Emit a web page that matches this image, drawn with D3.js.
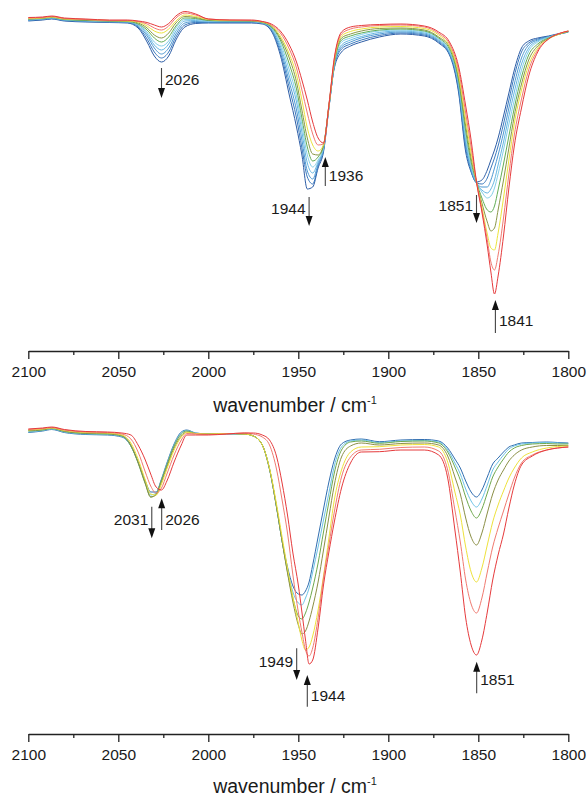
<!DOCTYPE html>
<html><head><meta charset="utf-8">
<script src="https://cdn.jsdelivr.net/npm/d3@7"></script>
<style>
body{margin:0;background:#fff}
svg{display:block}
text{font-family:"Liberation Sans",Arial,Helvetica,sans-serif;fill:#1a1a1a}
</style>
</head><body>
<svg id="chart" width="588" height="797"></svg>
<script>
// ---------- DATA ----------
// Upper panel: wavenumbers (cm-1) and 10 spectra (signal, a.u., increasing downward)
const topWavenumbers = [2100,2092,2087,2080,2068,2055,2045,2039,2034,2030,2026,2022,2018,2013,2007,2000,1988,1976,1970,1965,1960,1955,1951,1948,1945,1942,1939,1936,1933,1930,1926,1921,1915,1905,1893,1880,1872,1866,1861,1857,1854,1851,1848,1845,1843,1841,1839,1836,1833,1830,1826,1822,1817,1811,1805,1800];
const topS0 = [21,20,19,21,22,22.5,23, 28,42,56,62,56,40,27,23.5,23,23, 23, 24,31,55,95,127,155,189,187,168,152,108,68,52,46,42, 37,34,36,43, 55,92,152,172,182,180,170,160,150,138,116,93,70,48,41,38,36,33.5,31.5];
const topS1 = [20.5,19.5,18.5,20.5,21.5,22,22.5, 27,39,52,58,52,37,25,22.5,22.5,22.5, 22.5, 23.5,30,52,88,118,148,177,184,166,150,108,67,49,44,40, 35.5,33,35,42, 54,89,148,171,183,184,178,168,158,146,124,100,76,52,43,39,36.5,34,32];
const topS2 = [20,19,18.5,20,21,22,22, 26,36,48,54,48,34,23,21.5,22,22, 22, 23,29,49,82,110,140,171,179,164,149,107,66,47,42,38, 34,32,34,41, 53,86,144,170,183,187,187,180,168,155,133,108,84,58,45,40,37,34,32];
const topS3 = [20,19,18,20,21,21.5,22, 25,34,45,50,44,31,21,20.5,21.5,21.5, 21.5, 23,28,46,76,102,132,163,173,162,148,107,65,45,40,36.5, 32.5,31,33,40, 52,84,140,168,183,190,193,189,180,165,142,116,92,64,48,41,37,34,32];
const topS4 = [19.5,18.5,17.5,19.5,20.5,21.5,21.5, 24.5,32,42,46,41,28,19.5,19.5,21,21, 21.5, 22.5,27.5,43,70,96,125,155,167,160,147,107,64,42,38,34.5, 31,30,32,39, 51,82,136,166,182,192,198,196,188,174,150,124,100,70,51,42,37.5,34,31.5];
const topS5 = [19,18.5,17.5,19.5,20.5,21,21.5, 24,30,38,42,37,26,18,18.5,20.5,21, 21, 22.5,27,40,64,89,118,147,161,157,146,106,63,40,36,33, 30,29,31,38, 49,80,131,162,182,198,210,212,206,190,164,136,108,77,55,44,38,34,31.5];
const topS6 = [19,18,17,19,20,21,21, 23,28,35,38,33,23,16.5,17.5,20,20.5, 21, 22,26,38,58,82,110,138,154,155,145,106,62,38,34,31, 28.5,28,30,37, 47,77,126,158,182,203,222,231,228,210,180,148,116,84,60,46,38.5,34,31.5];
const topS7 = [18.5,18,17,19,19.5,20.5,21, 22,26,31,33,29,21,15,16.5,19.5,20.5, 20.5, 22,25.5,36,54,75,100,128,145,151,145,106,61,36,31.5,29, 27,26.5,28.5,35, 46,74,120,153,182,207,234,248,250,233,198,160,124,90,65,48,39,34,31];
const topS8 = [18,17.5,16.5,18.5,19.5,20.5,20.5, 21.5,24,28,30,26,18,13,15,19,20, 20.5, 21.5,25,33,49,68,90,113,134,145,144,105,59,34,29,27, 25.5,25,27,33.5, 44,70,113,147,182,210,240,262,270,255,218,174,135,99,70,50,39,33.5,31];
const topS9 = [17.5,17,16,18,19,20,20, 21,22.5,25,27,23.5,16,11.5,14,19,20, 20, 21.5,24,31,45,62,80,100,122,138,143,105,58,32,27,25.5, 24.5,24,26,32, 42,66,106,140,182,212,246,272,294,276,236,188,146,108,76,52,39,33.5,31];
const topColors = ["#2d5da6","#3a78bd","#4d98d2","#66b6e2","#84cfe8","#62ad55","#8a9747","#ece43c","#f07a70","#e63a3c"];

// Lower panel: wavenumbers and 7 spectra
const bottomWavenumbers = [2100,2092,2087,2080,2068,2056,2048,2043,2039,2035,2032,2029,2026,2023,2019,2015,2012,2007,2000,1990,1980,1975,1970,1966,1962,1959,1956,1953,1950,1948,1946,1944,1942,1939,1936,1933,1930,1926,1921,1915,1905,1893,1880,1872,1867,1863,1860,1857,1854,1851,1848,1845,1842,1839,1836,1833,1830,1826,1820,1812,1806,1800];
const botS0 = [32.5,31,29.5,32.5,34.5,35,37,46,62,81,92,92,79,63,44,32,30,33,34,34, 34,36,45,69,108,141,167,186,194,195,191,182,165,137,109,82,60,44,40,39,41.7, 40,39.5,41,48,59,68,81,92,97,90,77,64,58,52,47,45,43,42.5,42,42.5,43];
const botS1 = [32,30.5,29,32,34,34.5,36.5,46,62.5,83,95,93,79.5,64,45,33,30.5,33,34,34, 34,36,45,69,108,141,170,192,203,205,198,188,172,147,120,93,66,47,41,40,42.5, 41,40.5,42,50,63,74,89,101,107,99,85,70,62,55,49,46,44,43,42.5,43,43.5];
const botS2 = [31,30,28.5,31.5,33.5,34,36,46,63,84,97,94,80,65,46,34,31,33.5,34,33.5, 34,36,45,69,108,141,172,198,216,219,213,202,188,163,132,102,73,50,42,41,43.3, 41.5,41,43,52,67,80,97,111,118,109,93,77,67,59,52,48,45.5,44,43.5,44,44];
const botS3 = [30.5,29.5,28,31,33,33.5,35.5,45,62,83,97,95,82,67,48,36,32,33.5,34,33.5, 34,36,45,69,108,141,173,202,225,234,231,221,207,182,150,117,85,57,46,43,45, 43.5,43,45,56,77,94,118,137,145,133,113,94,80,70,61,55,50,47,45.5,45.5,45.5];
const botS4 = [30,29,28,30.5,32.5,33,35,43,59,80,94,95,84,69,50,37,32.5,33.5,34,33.5, 34,36,45,68,105,137,168,197,223,240,250,247,236,210,176,138,100,70,52,47,46.7, 45,44.5,47,62,92,115,147,172,182,168,145,122,105,91,78,68,58,52,48,46.5,46];
const botS5 = [29.5,28.5,27.5,30,32,32.5,34,39,52,72,86,93,88,74,55,40,33.5,34,34.5,34, 33,34,37,45,70,100,133,175,212,232,250,256,248,218,178,145,112,77,57,50,49.3, 47.5,47,51,70,110,142,180,204,213,198,172,147,128,111,94,78,63,55,50,48,47];
const botS6 = [29,28,27,29.5,31.5,32,33,35,45,60,74,87,90,81,62,45,35,35,35,34, 33,33,35,40,57,83,115,153,185,212,240,264,260,228,185,152,122,88,63,52,51.7, 50,50,55,78,130,172,218,245,255,240,212,180,155,134,108,85,65,56,50,48,47];
const bottomColors = ["#2f6db0","#6cc3e6","#6ea84c","#8b8f46","#eee23c","#f07a70","#e63a3c"];

// Axis ticks
const majorTicks = [2100,2050,2000,1950,1900,1850,1800];
const minorTicks = [2075,2025,1975,1925,1875,1825];

// Peak annotations (wavenumber, arrow extent in signal units, direction, label side)
const topAnnotations = [
  {label:"2026", wn:2026,   a:68,  b:98,  dir:"down", side:"right", ly:79},
  {label:"1944", wn:1944,   a:197, b:226, dir:"down", side:"left",  ly:208},
  {label:"1936", wn:1935,   a:157, b:186, dir:"up",   side:"right", ly:175},
  {label:"1851", wn:1851,   a:195, b:223, dir:"down", side:"left",  ly:205},
  {label:"1841", wn:1840.5, a:300, b:333, dir:"up",   side:"right", ly:320}
];
const bottomAnnotations = [
  {label:"2031", wn:2031.4, a:106.7, b:138.3, dir:"down", side:"left",  ly:119.3},
  {label:"2026", wn:2025.9, a:98.3,  b:130,   dir:"up",   side:"right", ly:119.3},
  {label:"1949", wn:1950.9, a:248.3, b:280,   dir:"down", side:"left",  ly:261.7},
  {label:"1944", wn:1945,   a:275,   b:306.7, dir:"up",   side:"right", ly:295},
  {label:"1851", wn:1850.9, a:261.7, b:293.3, dir:"up",   side:"right", ly:279.3}
];

// ---------- DRAWING ----------
const svg = d3.select("#chart");
const x = d3.scaleLinear().domain([2100, 1800]).range([28.3, 568.3]);

function panel(wns, seriesList, colors, annotations, yRange, axisY, titleY) {
  const y = d3.scaleLinear().domain([0, 300]).range(yRange);
  const g = svg.append("g");
  const line = d3.line().x(d => x(d[0])).y(d => y(d[1])).curve(d3.curveMonotoneX);
  seriesList.forEach((s, i) => {
    g.append("path")
      .datum(wns.map((w, j) => [w, s[j]]))
      .attr("fill", "none")
      .attr("stroke", colors[i])
      .attr("stroke-width", 1)
      .attr("d", line);
  });

  // annotations
  annotations.forEach(an => {
    const ax = x(an.wn);
    const y1 = y(an.a), y2 = y(an.b);
    const headLen = 10, headW = 3.5;
    if (an.dir === "down") {
      g.append("line").attr("x1", ax).attr("x2", ax).attr("y1", y1).attr("y2", y2 - headLen + 1)
        .attr("stroke", "#444").attr("stroke-width", 1.1);
      g.append("path").attr("d", `M${ax-headW},${y2-headLen} L${ax+headW},${y2-headLen} L${ax},${y2} Z`).attr("fill", "#111");
    } else {
      g.append("line").attr("x1", ax).attr("x2", ax).attr("y1", y1 + headLen - 1).attr("y2", y2)
        .attr("stroke", "#444").attr("stroke-width", 1.1);
      g.append("path").attr("d", `M${ax-headW},${y1+headLen} L${ax+headW},${y1+headLen} L${ax},${y1} Z`).attr("fill", "#111");
    }
    g.append("text")
      .attr("x", an.side === "right" ? ax + 3.5 : ax - 3.5)
      .attr("y", y(an.ly) + 5.6)
      .attr("text-anchor", an.side === "right" ? "start" : "end")
      .attr("font-size", "15.5px")
      .text(an.label);
  });

  // axis
  const ax = svg.append("g").attr("transform", `translate(0,${axisY})`);
  ax.call(d3.axisBottom(x).tickValues(majorTicks).tickSize(8).tickSizeOuter(0).tickPadding(7).tickFormat(d3.format("d")));
  ax.select(".domain").attr("stroke", "#222").attr("stroke-width", 1.3);
  ax.selectAll(".tick line").attr("stroke", "#222").attr("stroke-width", 1.3);
  ax.selectAll(".tick text").attr("font-size", "15.5px").attr("fill", "#1a1a1a")
    .attr("font-family", "'Liberation Sans',Arial,sans-serif");
  const mx = svg.append("g").attr("transform", `translate(0,${axisY})`);
  mx.call(d3.axisBottom(x).tickValues(minorTicks).tickSize(4).tickFormat(""));
  mx.select(".domain").remove();
  mx.selectAll(".tick line").attr("stroke", "#222").attr("stroke-width", 1.3);

  // title
  const t = svg.append("text").attr("x", 295).attr("y", titleY).attr("text-anchor", "middle")
    .attr("font-size", "19.5px");
  t.append("tspan").text("wavenumber / cm");
  t.append("tspan").attr("dy", -8).attr("font-size", "11px").text("-1");
}

panel(topWavenumbers, [topS0,topS1,topS2,topS3,topS4,topS5,topS6,topS7,topS8,topS9], topColors, topAnnotations, [0, 300], 351, 411.7);
panel(bottomWavenumbers, [botS0,botS1,botS2,botS3,botS4,botS5,botS6], bottomColors, bottomAnnotations, [400, 700], 734, 793);
</script>
</body></html>
